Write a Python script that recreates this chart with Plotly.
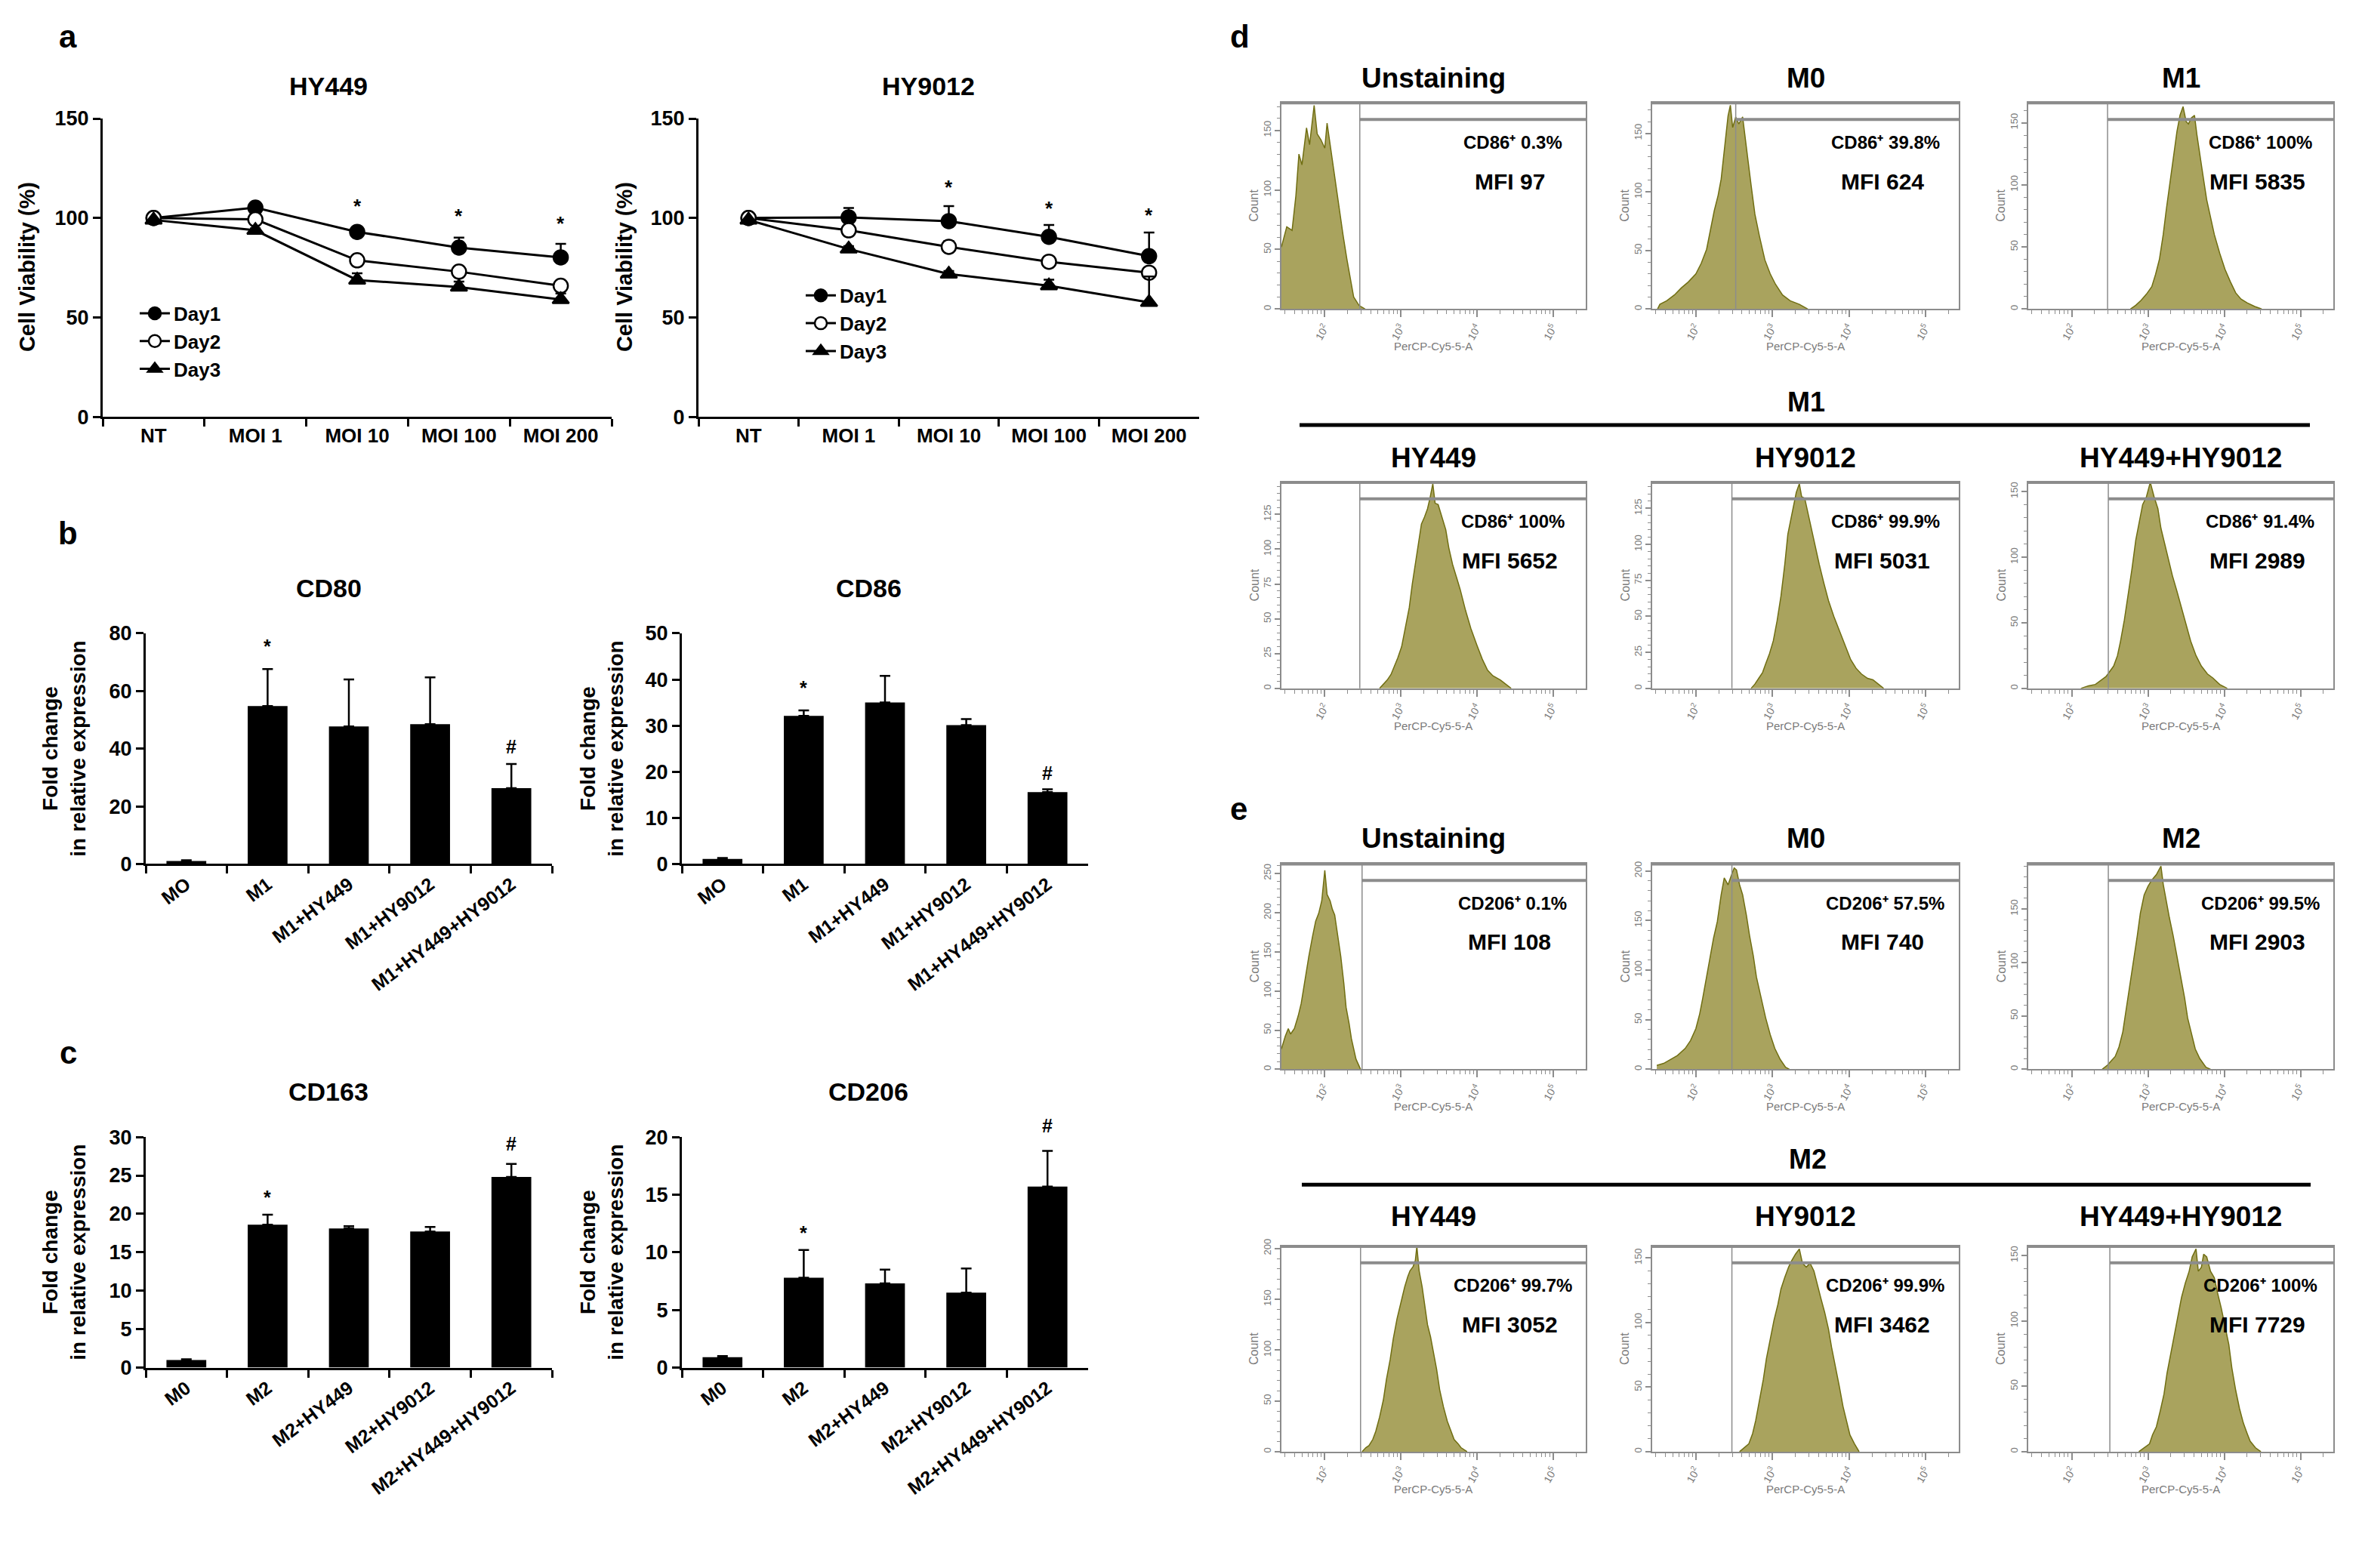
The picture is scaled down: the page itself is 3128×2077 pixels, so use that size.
import numpy as np
import plotly.graph_objects as go

W, H = 3112, 2061
OFF = 8  # default body margin of the html page


def px(x):
    return (x - OFF) / W


def py(y):
    return 1 - (y - OFF) / H


FONT = "Liberation Sans, Arial, sans-serif"
GRAY = "#8c8c8c"
LABEL_GRAY = "#7a7a7a"
FILL = "rgb(169,163,94)"
EDGE = "rgb(112,110,18)"

# ---------------- panel a: cell viability ----------------
MOI = ["NT", "MOI 1", "MOI 10", "MOI 100", "MOI 200"]
DAYS = ["Day1", "Day2", "Day3"]

HY449_VIAB_D1 = [100, 105.2, 93.0, 85.1, 80.2]
HY449_VIAB_D2 = [100, 99.3, 78.7, 73.0, 65.9]
HY449_VIAB_D3 = [99, 93.8, 68.8, 65.3, 59.0]
HY449_SD_D1 = [0.5, 1.5, 1.5, 5.0, 6.8]
HY449_SD_D2 = [0.5, 1.0, 2.5, 1.5, 1.5]
HY449_SD_D3 = [0.5, 1.0, 3.4, 2.7, 3.0]
HY449_STAR_Y = [None, None, 106, 101, 97.4]

HY9012_VIAB_D1 = [100, 100.3, 98.4, 90.5, 80.8]
HY9012_VIAB_D2 = [100, 93.8, 85.5, 78.0, 72.5]
HY9012_VIAB_D3 = [99, 84.4, 71.8, 65.9, 57.6]
HY9012_SD_D1 = [0.5, 4.7, 7.6, 6.0, 11.9]
HY9012_SD_D2 = [0.5, 1.0, 2.9, 1.0, 1.0]
HY9012_SD_D3 = [0.5, 1.5, 1.5, 3.1, 13.0]
HY9012_STAR_Y = [None, None, 115.6, 104.9, 101.3]

# ---------------- panels b, c: qPCR ----------------
M1_GROUPS = ["MO", "M1", "M1+HY449", "M1+HY9012", "M1+HY449+HY9012"]
M2_GROUPS = ["M0", "M2", "M2+HY449", "M2+HY9012", "M2+HY449+HY9012"]
SIG_TEXT = ["", "*", "", "", "#"]

CD80 = [1.0, 54.8, 47.7, 48.5, 26.3]
CD80_SD = [0.3, 12.8, 16.3, 16.2, 8.4]
CD80_SIG_Y = [None, 75.5, None, None, 40.8]

CD86 = [1.1, 32.1, 35.0, 30.1, 15.6]
CD86_SD = [0.2, 1.2, 5.8, 1.3, 0.6]
CD86_SIG_Y = [None, 38.2, None, None, 19.7]

CD163 = [1.0, 18.6, 18.1, 17.7, 24.8]
CD163_SD = [0.1, 1.3, 0.3, 0.6, 1.7]
CD163_SIG_Y = [None, 22.2, None, None, 29.1]

CD206 = [0.9, 7.8, 7.3, 6.5, 15.7]
CD206_SD = [0.1, 2.4, 1.2, 2.1, 3.1]
CD206_SIG_Y = [None, 11.7, None, None, 21.0]

# ---------------- panels d, e: flow histograms (log10 intensity, count) ----------------
D_UNST_LOG = [1.43, 1.50, 1.57, 1.62, 1.66, 1.70, 1.76, 1.80, 1.86, 1.90, 1.95, 2.00, 2.03, 2.07, 2.10, 2.15, 2.19, 2.24, 2.29, 2.34, 2.38, 2.45, 2.53]
D_UNST_CNT = [52, 69, 66, 95, 130, 121, 152, 138, 171, 147, 142, 135, 156, 138, 125, 104, 83, 62, 42, 24, 10, 3, 0]
D_M0_LOG = [1.50, 1.53, 1.62, 1.72, 1.81, 1.90, 2.00, 2.07, 2.14, 2.19, 2.24, 2.29, 2.33, 2.38, 2.42, 2.45, 2.48, 2.52, 2.56, 2.61, 2.65, 2.68, 2.72, 2.77, 2.83, 2.90, 2.97, 3.04, 3.13, 3.23, 3.35, 3.46]
D_M0_CNT = [0, 4, 7, 12, 18, 23, 30, 39, 51, 67, 84, 97, 111, 141, 165, 174, 155, 164, 158, 164, 141, 127, 106, 81, 62, 42, 30, 21, 12, 7, 4, 0]
D_M1_LOG = [2.77, 2.84, 2.91, 2.98, 3.05, 3.10, 3.15, 3.20, 3.24, 3.29, 3.34, 3.38, 3.42, 3.46, 3.50, 3.53, 3.57, 3.61, 3.64, 3.67, 3.72, 3.77, 3.82, 3.87, 3.94, 4.01, 4.08, 4.15, 4.22, 4.30, 4.40, 4.49]
D_M1_CNT = [0, 3, 7, 12, 18, 28, 40, 60, 80, 103, 128, 143, 156, 163, 151, 149, 154, 156, 141, 128, 108, 88, 73, 60, 45, 32, 22, 13, 8, 5, 2, 0]
D_HY449_LOG = [2.72, 2.77, 2.82, 2.87, 2.91, 2.96, 3.01, 3.06, 3.11, 3.15, 3.20, 3.24, 3.27, 3.31, 3.35, 3.38, 3.42, 3.45, 3.49, 3.54, 3.59, 3.63, 3.68, 3.73, 3.78, 3.85, 3.92, 4.00, 4.07, 4.14, 4.21, 4.31, 4.38, 4.45]
D_HY449_CNT = [0, 3, 6, 10, 15, 22, 30, 43, 58, 75, 93, 107, 118, 123, 129, 136, 147, 133, 132, 123, 114, 101, 89, 80, 71, 56, 43, 31, 21, 13, 9, 6, 3, 0]
D_HY9012_LOG = [2.72, 2.77, 2.82, 2.87, 2.91, 2.96, 3.01, 3.06, 3.11, 3.16, 3.20, 3.24, 3.28, 3.31, 3.35, 3.38, 3.42, 3.47, 3.51, 3.56, 3.61, 3.67, 3.73, 3.80, 3.88, 3.95, 4.02, 4.09, 4.16, 4.24, 4.31, 4.38, 4.45]
D_HY9012_CNT = [0, 3, 7, 11, 17, 24, 33, 47, 64, 86, 107, 117, 127, 136, 142, 133, 132, 120, 110, 97, 86, 73, 61, 50, 39, 29, 20, 14, 10, 7, 6, 3, 0]
D_COMBO_LOG = [2.12, 2.22, 2.31, 2.38, 2.45, 2.50, 2.55, 2.60, 2.64, 2.69, 2.74, 2.79, 2.84, 2.88, 2.93, 2.98, 3.03, 3.08, 3.13, 3.17, 3.22, 3.27, 3.32, 3.38, 3.44, 3.50, 3.56, 3.63, 3.70, 3.78, 3.85, 3.94, 4.04]
D_COMBO_CNT = [0, 2, 3, 6, 9, 13, 17, 25, 36, 52, 71, 91, 113, 126, 140, 146, 157, 146, 137, 122, 110, 97, 86, 74, 61, 49, 36, 25, 17, 11, 8, 3, 0]

E_UNST_LOG = [1.43, 1.48, 1.52, 1.55, 1.60, 1.65, 1.69, 1.74, 1.79, 1.84, 1.88, 1.92, 1.96, 2.00, 2.03, 2.07, 2.10, 2.13, 2.17, 2.21, 2.25, 2.28, 2.32, 2.35, 2.41, 2.47]
E_UNST_CNT = [26, 42, 52, 45, 52, 68, 84, 115, 144, 170, 189, 199, 215, 254, 223, 215, 204, 197, 170, 144, 110, 79, 58, 39, 13, 0]
E_M0_LOG = [1.49, 1.58, 1.67, 1.76, 1.86, 1.93, 2.00, 2.05, 2.09, 2.14, 2.19, 2.23, 2.28, 2.33, 2.37, 2.42, 2.47, 2.50, 2.53, 2.57, 2.61, 2.66, 2.70, 2.75, 2.79, 2.85, 2.91, 2.97, 3.03, 3.10, 3.17, 3.22]
E_M0_CNT = [4, 6, 10, 14, 21, 29, 41, 56, 72, 93, 114, 132, 149, 176, 193, 186, 197, 203, 201, 186, 176, 155, 135, 114, 93, 72, 52, 35, 21, 10, 2, 0]
E_M2_LOG = [2.40, 2.47, 2.52, 2.57, 2.62, 2.67, 2.71, 2.76, 2.81, 2.86, 2.90, 2.95, 3.00, 3.05, 3.11, 3.17, 3.20, 3.24, 3.28, 3.33, 3.38, 3.43, 3.48, 3.52, 3.57, 3.62, 3.68, 3.76, 3.82]
E_M2_CNT = [0, 4, 8, 12, 21, 35, 54, 77, 100, 125, 146, 163, 171, 177, 182, 190, 173, 157, 142, 125, 106, 86, 67, 48, 33, 19, 10, 2, 0]
E_HY449_LOG = [2.49, 2.54, 2.58, 2.63, 2.67, 2.72, 2.77, 2.81, 2.86, 2.90, 2.95, 3.00, 3.05, 3.09, 3.12, 3.16, 3.19, 3.21, 3.24, 3.28, 3.32, 3.35, 3.39, 3.42, 3.47, 3.51, 3.56, 3.61, 3.66, 3.70, 3.75, 3.79, 3.87]
E_HY449_CNT = [0, 4, 6, 12, 20, 34, 51, 71, 91, 111, 131, 147, 162, 172, 178, 182, 188, 202, 178, 162, 141, 125, 113, 101, 81, 61, 44, 30, 20, 12, 8, 4, 0]
E_HY9012_LOG = [2.57, 2.63, 2.69, 2.74, 2.78, 2.83, 2.88, 2.92, 2.97, 3.02, 3.07, 3.11, 3.16, 3.21, 3.25, 3.30, 3.35, 3.39, 3.44, 3.49, 3.54, 3.58, 3.63, 3.68, 3.73, 3.77, 3.82, 3.87, 3.92, 3.97, 4.01, 4.07, 4.13]
E_HY9012_CNT = [0, 3, 6, 14, 24, 40, 56, 72, 87, 102, 114, 126, 135, 143, 148, 153, 157, 146, 143, 146, 140, 130, 119, 108, 95, 81, 67, 51, 35, 22, 13, 6, 0]
E_COMBO_LOG = [2.88, 2.95, 3.02, 3.06, 3.11, 3.16, 3.21, 3.25, 3.30, 3.35, 3.40, 3.44, 3.49, 3.54, 3.58, 3.63, 3.66, 3.70, 3.73, 3.77, 3.82, 3.87, 3.91, 3.96, 4.01, 4.06, 4.10, 4.15, 4.20, 4.25, 4.30, 4.34, 4.41, 4.48]
E_COMBO_CNT = [0, 3, 6, 13, 19, 31, 44, 60, 75, 91, 107, 118, 129, 138, 149, 155, 138, 141, 151, 149, 138, 133, 122, 110, 96, 82, 64, 47, 33, 22, 14, 8, 3, 0]

D_TITLES = ["Unstaining", "M0", "M1", "HY449", "HY9012", "HY449+HY9012"]
D_PCT = ["0.3%", "39.8%", "100%", "100%", "99.9%", "91.4%"]
D_MFI = [97, 624, 5835, 5652, 5031, 2989]
D_GATE = [2.46, 2.52, 2.47, 2.46, 2.47, 2.48]
D_YMAX = [173, 176, 166, 148, 143, 157]
D_YSTEP = [50, 50, 50, 25, 25, 50]

E_TITLES = ["Unstaining", "M0", "M2", "HY449", "HY9012", "HY449+HY9012"]
E_PCT = ["0.1%", "57.5%", "99.5%", "99.7%", "99.9%", "100%"]
E_MFI = [108, 740, 2903, 3052, 3462, 7729]
E_GATE = [2.49, 2.47, 2.48, 2.47, 2.47, 2.50]
E_YMAX = [262, 207, 192, 202, 159, 157]
E_YSTEP = [50, 50, 50, 50, 50, 50]

X_LOG_RANGE = [1.43, 5.43]
X_DECADES = [100, 1000, 10000, 100000]
X_DECADE_TEXT = ["10<sup>2</sup>", "10<sup>3</sup>", "10<sup>4</sup>", "10<sup>5</sup>"]

fig = go.Figure()
layout = {}
annotations = []
shapes = []


def axis_keys(i):
    s = "" if i == 1 else str(i)
    return "xaxis" + s, "yaxis" + s, "x" + s, "y" + s


def text(x, y, s, size, color="black", bold=True, angle=0, xref="paper", yref="paper",
         xanchor="center", yanchor="middle"):
    annotations.append(dict(
        x=x, y=y, xref=xref, yref=yref, text=s, showarrow=False, textangle=angle,
        xanchor=xanchor, yanchor=yanchor,
        font=dict(family=FONT, size=size, color=color, weight="bold" if bold else "normal"),
    ))


def bold_font(size):
    return dict(family=FONT, size=size, color="black", weight="bold")


def black_axes(i, x0, x1, top, base, yrange, dtick, tickangle=0, xfont=26):
    xa, ya, xr, yr = axis_keys(i)
    layout[xa] = dict(
        domain=[px(x0), px(x1)], anchor=yr, type="category", range=[-0.5, 4.5],
        showline=True, linecolor="black", linewidth=3, ticks="outside", tickson="boundaries",
        ticklen=10, tickwidth=3, tickcolor="black", tickangle=tickangle,
        tickfont=bold_font(xfont), showgrid=False, zeroline=False,
    )
    layout[ya] = dict(
        domain=[py(base), py(top)], anchor=xr, range=yrange, dtick=dtick,
        showline=True, linecolor="black", linewidth=3, ticks="outside", ticklen=10,
        tickwidth=3, tickcolor="black", tickfont=bold_font(27),
        showgrid=False, zeroline=False,
    )
    return xr, yr


def marks(xr, yr, cats, labels, heights, ymax, size):
    # significance marks, placed in domain units so they may sit above the axis top
    for cat, s, y in zip(cats, labels, heights):
        if y is not None:
            text(cat, y / ymax, s, size, xref=xr, yref=yr + " domain")


# ---------------- panel a ----------------
def line_chart(i, x0, x1, title, title_x, ylabel_x, viab, sds, star_y, legend_name):
    xr, yr = black_axes(i, x0, x1, 144, 545, [0, 150], 50)
    styles = [("circle", "black"), ("circle", "white"), ("triangle-up", "black")]
    for k in range(3):
        sym, col = styles[k]
        fig.add_trace(go.Scatter(
            x=MOI, y=viab[k], name=DAYS[k], mode="lines+markers", xaxis=xr, yaxis=yr,
            legend=legend_name,
            line=dict(color="black", width=3),
            marker=dict(symbol=sym, size=19, color=col, line=dict(color="black", width=2.5)),
            error_y=dict(type="data", array=sds[k], arrayminus=[0] * len(MOI), symmetric=False,
                         color="black", thickness=2.5, width=7),
        ))
    marks(xr, yr, MOI, ["*"] * len(MOI), star_y, 150, 26)
    text(px(title_x), py(100), title, 34)
    text(px(ylabel_x), py(344), "Cell Viability (%)", 29, angle=-90)


line_chart(1, 136, 810, "HY449", 435, 36,
           [HY449_VIAB_D1, HY449_VIAB_D2, HY449_VIAB_D3],
           [HY449_SD_D1, HY449_SD_D2, HY449_SD_D3], HY449_STAR_Y, "legend")
line_chart(2, 925, 1588, "HY9012", 1229, 827,
           [HY9012_VIAB_D1, HY9012_VIAB_D2, HY9012_VIAB_D3],
           [HY9012_SD_D1, HY9012_SD_D2, HY9012_SD_D3], HY9012_STAR_Y, "legend2")

legend_style = dict(xanchor="left", yanchor="top", bgcolor="rgba(0,0,0,0)",
                    font=bold_font(26), tracegroupgap=0, itemwidth=40)
layout["legend"] = dict(x=px(180), y=py(382), **legend_style)
layout["legend2"] = dict(x=px(1062), y=py(358), **legend_style)


# ---------------- panels b, c ----------------
def bar_chart(i, x0, x1, top, base, title, title_x, cats, vals, sds, sig_y, yrange, dtick, ylabel_x):
    xr, yr = black_axes(i, x0, x1, top, base, yrange, dtick, tickangle=-37, xfont=25)
    fig.add_trace(go.Bar(
        x=cats, y=vals, width=0.49, marker=dict(color="black", line=dict(width=0)),
        xaxis=xr, yaxis=yr, showlegend=False,
        error_y=dict(type="data", array=sds, arrayminus=[0] * len(cats), symmetric=False,
                     color="black", thickness=2.5, width=7),
    ))
    marks(xr, yr, cats, SIG_TEXT, sig_y, yrange[1], 25)
    text(px(title_x), py(top - 61), title, 34)
    text(px(ylabel_x), py((top + base) / 2), "Fold change<br>in relative expression", 28, angle=-90)


bar_chart(3, 193, 731, 836, 1146, "CD80", 435, M1_GROUPS, CD80, CD80_SD, CD80_SIG_Y, [0, 80], 20, 85)
bar_chart(4, 903, 1441, 836, 1146, "CD86", 1150, M1_GROUPS, CD86, CD86_SD, CD86_SIG_Y, [0, 50], 10, 797)
bar_chart(5, 193, 731, 1513, 1823, "CD163", 435, M2_GROUPS, CD163, CD163_SD, CD163_SIG_Y, [0, 30], 5, 85)
bar_chart(6, 903, 1441, 1513, 1823, "CD206", 1150, M2_GROUPS, CD206, CD206_SD, CD206_SIG_Y, [0, 20], 5, 797)

# ---------------- panels d, e ----------------
MINOR_X = [k * 10 ** d for d in range(1, 6) for k in range(2, 10)
           if X_LOG_RANGE[0] <= np.log10(k * 10 ** d) <= X_LOG_RANGE[1]]
COLS = [(1697, 2100), (2188, 2594), (2686, 3090)]


def xdom(logval):
    return (logval - X_LOG_RANGE[0]) / (X_LOG_RANGE[1] - X_LOG_RANGE[0])


def histogram(i, col, top, base, title, title_y, logs, counts, ymax, ystep, gate, marker, pct, mfi):
    xa, ya, xr, yr = axis_keys(i)
    x0, x1 = COLS[col]
    layout[xa] = dict(
        domain=[px(x0), px(x1)], anchor=yr, type="log", range=X_LOG_RANGE,
        showline=True, mirror=True, linecolor=GRAY, linewidth=2,
        ticks="outside", tickvals=X_DECADES, ticktext=X_DECADE_TEXT,
        ticklen=9, tickwidth=1.5, tickcolor=GRAY,
        tickangle=-60, tickfont=dict(family=FONT, size=14, color=LABEL_GRAY),
        minor=dict(tickmode="array", tickvals=MINOR_X, ticks="outside", ticklen=5,
                   tickwidth=1.2, tickcolor=GRAY),
        showgrid=False, zeroline=False,
    )
    layout[ya] = dict(
        domain=[py(base), py(top)], anchor=xr, range=[0, ymax], dtick=ystep,
        showline=True, mirror=True, linecolor=GRAY, linewidth=2,
        ticks="outside", ticklen=7, tickwidth=1.5, tickcolor=GRAY, tickangle=-90,
        tickfont=dict(family=FONT, size=13, color=LABEL_GRAY),
        minor=dict(dtick=ystep / 5, ticks="outside", ticklen=4, tickwidth=1.2, tickcolor=GRAY),
        showgrid=False, zeroline=False,
    )
    fig.add_trace(go.Scatter(
        x=10 ** np.array(logs), y=counts, mode="lines", fill="tozeroy", fillcolor=FILL,
        line=dict(color=EDGE, width=1.5), xaxis=xr, yaxis=yr, showlegend=False,
    ))
    xd, yd = xr + " domain", yr + " domain"
    g = xdom(gate)
    # thick upper frame, gate line and gate bar
    shapes.append(dict(type="line", xref=xd, yref=yd, x0=0, x1=1, y0=1, y1=1,
                       line=dict(color=GRAY, width=4)))
    shapes.append(dict(type="line", xref=xd, yref=yd, x0=g, x1=g, y0=0, y1=1,
                       line=dict(color=GRAY, width=1.5), layer="above"))
    shapes.append(dict(type="line", xref=xd, yref=yd, x0=g, x1=1, y0=0.92, y1=0.92,
                       line=dict(color=GRAY, width=4), layer="above"))
    text(px((x0 + x1) / 2), py(title_y), title, 37)
    text(0.76, 0.81, f"{marker}\u207a {pct}", 24, xref=xd, yref=yd)
    text(0.75, 0.62, f"MFI {mfi}", 30, xref=xd, yref=yd)
    text(px(x0 - 36), py((top + base) / 2), "Count", 16, color=LABEL_GRAY, bold=False, angle=-90)
    text(px((x0 + x1) / 2), py(base + 50), "PerCP-Cy5-5-A", 15, color=LABEL_GRAY, bold=False)


D_DATA = [(D_UNST_LOG, D_UNST_CNT), (D_M0_LOG, D_M0_CNT), (D_M1_LOG, D_M1_CNT),
          (D_HY449_LOG, D_HY449_CNT), (D_HY9012_LOG, D_HY9012_CNT), (D_COMBO_LOG, D_COMBO_CNT)]
E_DATA = [(E_UNST_LOG, E_UNST_CNT), (E_M0_LOG, E_M0_CNT), (E_M2_LOG, E_M2_CNT),
          (E_HY449_LOG, E_HY449_CNT), (E_HY9012_LOG, E_HY9012_CNT), (E_COMBO_LOG, E_COMBO_CNT)]

# row geometry: (top, baseline, title y)
D_ROWS = [(123, 400, 90), (633, 910, 600)]
E_ROWS = [(1146, 1422, 1112), (1660, 1936, 1620)]

idx = 7
for k in range(6):
    top, base, ty = D_ROWS[k // 3]
    histogram(idx, k % 3, top, base, D_TITLES[k], ty, D_DATA[k][0], D_DATA[k][1],
              D_YMAX[k], D_YSTEP[k], D_GATE[k], "CD86", D_PCT[k], D_MFI[k])
    idx += 1
for k in range(6):
    top, base, ty = E_ROWS[k // 3]
    histogram(idx, k % 3, top, base, E_TITLES[k], ty, E_DATA[k][0], E_DATA[k][1],
              E_YMAX[k], E_YSTEP[k], E_GATE[k], "CD206", E_PCT[k], E_MFI[k])
    idx += 1

# group headers over the treated rows
text(px(2392), py(525), "M1", 36)
shapes.append(dict(type="line", xref="paper", yref="paper", x0=px(1721), x1=px(3059),
                   y0=py(556), y1=py(556), line=dict(color="black", width=5)))
text(px(2394), py(1543), "M2", 36)
shapes.append(dict(type="line", xref="paper", yref="paper", x0=px(1724), x1=px(3060),
                   y0=py(1577), y1=py(1577), line=dict(color="black", width=5)))

# panel letters
for letter, lx, ly in [("a", 90, 34), ("b", 90, 702), ("c", 90, 1400), ("d", 1642, 34), ("e", 1640, 1072)]:
    text(px(lx), py(ly), letter, 42)

fig.update_layout(
    width=W, height=H, margin=dict(l=0, r=0, t=0, b=0),
    paper_bgcolor="white", plot_bgcolor="white",
    annotations=annotations, shapes=shapes, **layout,
)

fig.write_html("out.html")
